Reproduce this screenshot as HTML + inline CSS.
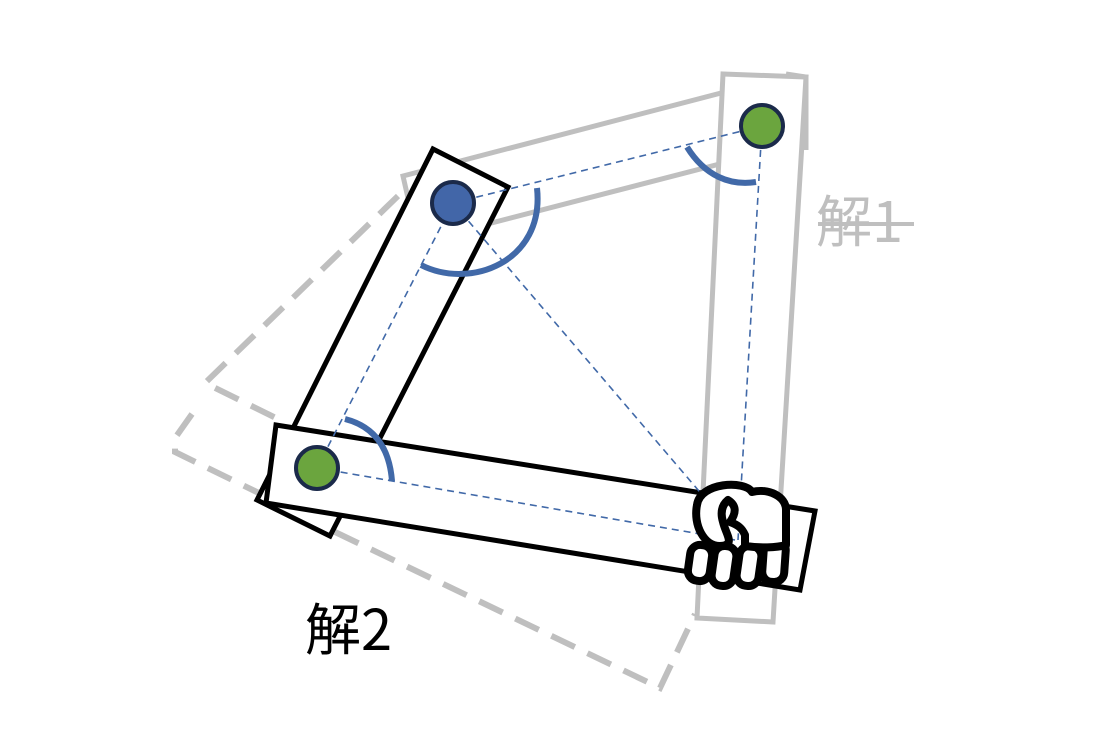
<!DOCTYPE html>
<html><head><meta charset="utf-8"><style>
html,body{margin:0;padding:0;background:#fff;width:1100px;height:733px;overflow:hidden}
svg{display:block}
</style></head><body>
<svg width="1100" height="733" viewBox="0 0 1100 733" xmlns="http://www.w3.org/2000/svg">
<g fill="none" stroke="#bfbfbf" stroke-width="5" stroke-linejoin="miter">
<polygon points="403,176 725,92 735,160 418,242" fill="#fff"/>
<polygon points="723,74 806,77 773,622 697,618" fill="#fff"/>
<path d="M786,74 L806,77 L806,150"/>
</g>
<g fill="none" stroke="#bfbfbf" stroke-width="6" stroke-dasharray="26,14">
<path d="M398,196 L205,383 L280,420"/>
<path d="M192,414 L175,438 L175,452 L265,496"/>
<path d="M335,532 L660,688 L695,614"/>
</g>
<g fill="#fff" stroke="#000" stroke-width="5" stroke-linejoin="miter">
<polygon points="433,149 508,187 330,536 257,500"/>
<polygon points="276,425 815,511 800,590 266,503"/>
</g>
<g fill="none" stroke="#4169a8" stroke-width="1.6" stroke-dasharray="7,5">
<line x1="453" y1="203" x2="762" y2="126"/>
<line x1="762" y1="126" x2="738" y2="540"/>
<line x1="453" y1="203" x2="722" y2="518"/>
<line x1="317" y1="468" x2="453" y2="203"/>
<line x1="317" y1="468" x2="735" y2="540"/>
</g>
<g fill="none" stroke="#4169a8" stroke-width="6">
<path d="M421,265 C470,290 545,262 537,188"/>
<path d="M687,147 C705,176 730,186 756,182"/>
<path d="M345,419 Q388,430 392,481"/>
</g>
<circle cx="453" cy="203" r="21" fill="#4266a8" stroke="#1b2a4a" stroke-width="4"/>
<circle cx="762" cy="126" r="21" fill="#6ba53e" stroke="#1b2a4a" stroke-width="4"/>
<circle cx="317" cy="468" r="21" fill="#6ba53e" stroke="#1b2a4a" stroke-width="4"/>
<g fill="#fff" stroke="#000" stroke-width="8" stroke-linejoin="round">
<rect x="689" y="545" width="22" height="36" rx="10" transform="rotate(8 700 563)"/>
<rect x="713" y="546" width="22" height="40" rx="10" transform="rotate(8 724 566)"/>
<rect x="738" y="546" width="22" height="40" rx="10" transform="rotate(8 749 566)"/>
<rect x="763" y="540" width="22" height="42" rx="10" transform="rotate(4 774 561)"/>
<path d="M697,505 C700,482 745,480 752,492 C768,488 786,496 786,510 L786,545 C776,548 760,548 745,546 L745,535 C742,528 738,525 730,522 C737,512 736,505 728,500 C722,505 720,512 723,522 C726,535 736,545 720,546 C704,546 693,525 697,505 Z"/>
</g>
<g font-family="'Noto Sans CJK JP',sans-serif" font-size="56">
<text x="816" y="242" fill="#bfbfbf">解1</text>
<line x1="818" y1="224" x2="914" y2="224" stroke="#bfbfbf" stroke-width="4"/>
<text x="305" y="650" fill="#000">解2</text>
</g>
</svg>
</body></html>
